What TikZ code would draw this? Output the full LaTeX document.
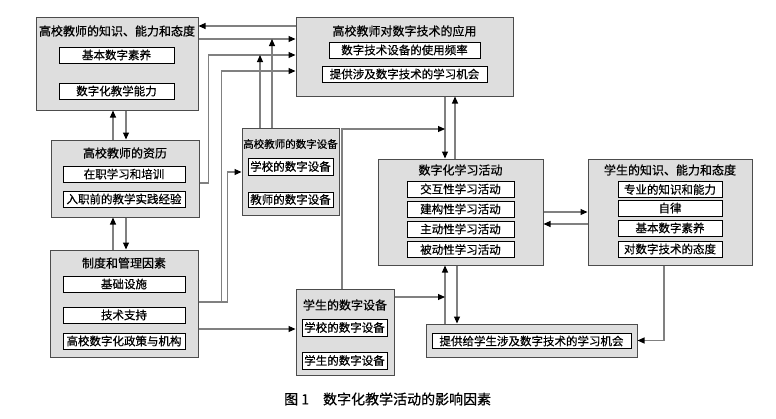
\documentclass[tikz,border=0pt]{standalone}
\usepackage{fontspec}
\setmainfont{Noto Sans CJK SC}[FakeBold=0.6]
\usetikzlibrary{arrows.meta}

\begin{document}
\begin{tikzpicture}[x=1pt,y=-1pt,
  outer/.style={draw=black!70,line width=1pt,fill=black!13,inner sep=0pt},
  inner/.style={draw=black,line width=0.8pt,fill=white,inner sep=0pt,minimum height=16pt,font=\fontsize{11.5}{12}\selectfont},
  title/.style={inner sep=0pt,font=\fontsize{12}{13}\selectfont},
  link/.style={draw=black!50,line width=1.1pt,-{Triangle[length=7pt,width=6pt,color=black]}}]
\useasboundingbox (0,0) rectangle (776,418);

% teachers
\node[outer,minimum width=162pt,minimum height=93pt] (ka) at (117,63.5) {};
\node[title] (kat) at (117,31) {高校教师的知识、能力和态度};
\node[inner,minimum width=115pt] (ka1) at (116.5,55) {基本数字素养};
\node[inner,minimum width=115pt] (ka2) at (116.5,91) {数字化教学能力};

\node[outer,minimum width=217pt,minimum height=79pt] (app) at (404.5,56.5) {};
\node[title] (appt) at (404.5,31) {高校教师对数字技术的应用};
\node[inner,minimum width=151pt] (app1) at (404.5,50) {数字技术设备的使用频率};
\node[inner,minimum width=165pt] (app2) at (404.5,74) {提供涉及数字技术的学习机会};

\node[outer,minimum width=148pt,minimum height=77pt] (qual) at (125,178.5) {};
\node[title] (qualt) at (125,153) {高校教师的资历};
\node[inner,minimum width=122pt] (qual1) at (124,174) {在职学习和培训};
\node[inner,minimum width=122pt] (qual2) at (124,199) {入职前的教学实践经验};

\node[outer,minimum width=148pt,minimum height=107pt] (inst) at (124,303.5) {};
\node[title] (instt) at (124,263) {制度和管理因素};
\node[inner,minimum width=122pt] (inst1) at (124,284) {基础设施};
\node[inner,minimum width=122pt] (inst2) at (124,315) {技术支持};
\node[inner,minimum width=122pt] (inst3) at (124,341) {高校数字化政策与机构};

\node[outer,minimum width=97pt,minimum height=87pt] (tdev) at (290.5,171.5) {};
\node[title,font=\fontsize{10.5}{12}\selectfont] (tdevt) at (290.5,144) {高校教师的数字设备};
\node[inner,minimum width=85pt,minimum height=17pt] (tdev1) at (290.5,166.5) {学校的数字设备};
\node[inner,minimum width=85pt,minimum height=15pt] (tdev2) at (290.5,199.5) {教师的数字设备};

% students
\node[outer,minimum width=165pt,minimum height=106pt] (learn) at (460.5,212) {};
\node[title] (learnt) at (460.5,170) {数字化学习活动};
\node[inner,minimum width=107pt] (learn1) at (460.5,189) {交互性学习活动};
\node[inner,minimum width=107pt] (learn2) at (460.5,209) {建构性学习活动};
\node[inner,minimum width=107pt] (learn3) at (460.5,229) {主动性学习活动};
\node[inner,minimum width=107pt] (learn4) at (460.5,249.5) {被动性学习活动};

\node[outer,minimum width=164pt,minimum height=106pt] (stu) at (670,212) {};
\node[title] (stut) at (670,170) {学生的知识、能力和态度};
\node[inner,minimum width=104pt] (stu1) at (670,189.5) {专业的知识和能力};
\node[inner,minimum width=104pt] (stu2) at (670,208) {自律};
\node[inner,minimum width=104pt] (stu3) at (670,228) {基本数字素养};
\node[inner,minimum width=104pt] (stu4) at (670,249) {对数字技术的态度};

\node[outer,minimum width=98pt,minimum height=86pt] (sdev) at (345,332) {};
\node[title] (sdevt) at (345,305) {学生的数字设备};
\node[inner,minimum width=85pt,minimum height=17pt] (sdev1) at (344.5,327.5) {学校的数字设备};
\node[inner,minimum width=85pt,minimum height=17pt] (sdev2) at (344.5,360.5) {学生的数字设备};

\node[outer,minimum width=211pt,minimum height=33pt] (opp) at (531.5,340.5) {};
\node[inner,minimum width=199pt,minimum height=15pt] (opp1) at (531.5,341) {提供给学生涉及数字技术的学习机会};

\node[anchor=west,inner sep=0pt,font=\fontsize{14}{15}\selectfont] (cap) at (284,399) {图~1\hspace{1em}数字化教学活动的影响因素};

% junctions
\coordinate (j1) at (272,39);
\coordinate (j2) at (260,55);
\coordinate (j3) at (445,129);
\coordinate (j4) at (445,297);

% links
\draw[link] (app.west |- 0,26) -- (ka.east |- 0,26);
\draw[link] (ka.east |- 0,39) -- (app.west |- 0,39);
\draw[link] (qual.east |- 0,183) -- ++(9,0) |- (app.west |- 0,55);
\draw[link] (inst.east |- 0,302) -- ++(23,0) |- (app.west |- 0,71);
\draw[link] (inst.east |- 0,302) -- ++(29,0) |- (tdev.west |- 0,172);
\draw[link] (tdev.north -| j1) -- (j1);
\draw[link] (tdev.north -| j2) -- (j2);
\draw[link] (app.south -| 445,0) -- (learn.north -| 445,0);
\draw[link] (learn.north -| 455,0) -- (app.south -| 455,0);
\draw[link] (sdev.north -| 342,0) |- (j3);
\draw[link] (learn.east |- 0,212) -- (stu.west |- 0,212);
\draw[link] (stu.west |- 0,224) -- (learn.east |- 0,224);
\draw[link] (stu.south -| 664,0) |- (opp.east);
\draw[link] (opp.north -| j4) -- (learn.south -| j4);
\draw[link] (learn.south -| 457,0) -- (opp.north -| 457,0);
\draw[link] (sdev.east |- j4) -- (j4);
\draw[link] (inst.east |- 0,329) -- (sdev.west |- 0,329);
\draw[link] (qual.north -| 113,0) -- (ka.south -| 113,0);
\draw[link] (ka.south -| 126,0) -- (qual.north -| 126,0);
\draw[link] (inst.north -| 113,0) -- (qual.south -| 113,0);
\draw[link] (qual.south -| 126,0) -- (inst.north -| 126,0);
\end{tikzpicture}
\end{document}
